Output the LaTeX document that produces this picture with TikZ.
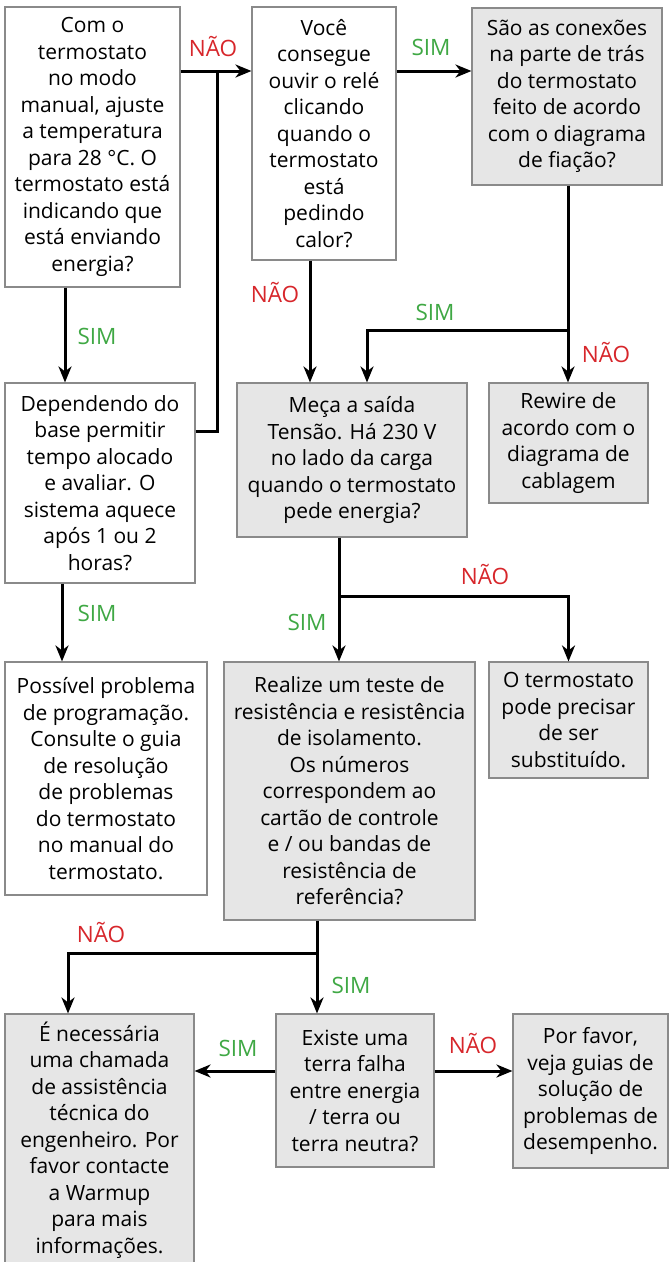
\documentclass[tikz,border=0pt]{standalone}
\usepackage{fontspec}
\setmainfont{Open Sans}
\usepackage{xcolor}
\usetikzlibrary{arrows.meta,positioning}
\definecolor{boxgray}{HTML}{E6E6E6}
\definecolor{edgegray}{HTML}{8A8A8A}
\definecolor{simgreen}{HTML}{3FA844}
\definecolor{naored}{HTML}{D7262B}

\begin{document}
\begin{tikzpicture}[x=1pt, y=-1pt,
    every node/.style={font=\fontsize{21}{26.5}\selectfont, align=center, inner sep=0pt},
    whitebox/.style={draw=edgegray, line width=1.1pt, fill=white},
    graybox/.style={draw=edgegray, line width=1.1pt, fill=boxgray},
    flow/.style={-{Stealth[length=16pt, width=13pt, inset=5pt]}, line width=3pt},
    joint/.style={line width=3pt},
    yes/.style={text=simgreen, font=\fontsize{22.5}{26}\selectfont},
    no/.style={text=naored, font=\fontsize{22.5}{26}\selectfont}]
  \useasboundingbox (0,0) rectangle (669,1262);
  \clip (0,0) rectangle (669,1262);
  % caixas
  \node[whitebox, minimum width=175pt, minimum height=280pt] (modo) at (92.5,147) {Com o\\termostato\\no modo\\manual, ajuste\\a temperatura\\para 28 °C. O\\termostato está\\indicando que\\está enviando\\energia?};
  \node[whitebox, minimum width=144pt, minimum height=253pt] (rele) at (324,133.5) {Você\\consegue\\ouvir o relé\\clicando\\quando o\\termostato\\está\\pedindo\\calor?};
  \node[graybox, minimum width=190pt, minimum height=177pt] (conexoes) at (567,96.5) {São as conexões\\na parte de trás\\do termostato\\feito de acordo\\com o diagrama\\de fiação?};
  \node[whitebox, minimum width=190pt, minimum height=200pt] (aquece) at (100,483) {Dependendo do\\base permitir\\tempo alocado\\e avaliar. O\\sistema aquece\\após 1 ou 2\\horas?};
  \node[whitebox, minimum width=202pt, minimum height=233pt] (programa) at (106,778.5) {Possível problema\\de programação.\\Consulte o guia\\de resolução\\de problemas\\do termostato\\no manual do\\termostato.};
  \node[graybox, minimum width=230pt, minimum height=154pt] (tensao) at (352,460) {Meça a saída\\Tensão. Há 230 V\\no lado da carga\\quando o termostato\\pede energia?};
  \node[graybox, minimum width=159pt, minimum height=120pt] (rewire) at (568.5,443) {Rewire de\\acordo com o\\diagrama de\\cablagem};
  \node[graybox, minimum width=251pt, minimum height=258pt] (isolamento) at (349.5,791) {Realize um teste de\\resistência e resistência\\de isolamento.\\Os números\\correspondem ao\\cartão de controle\\e / ou bandas de\\resistência de\\referência?};
  \node[graybox, minimum width=159pt, minimum height=116pt] (substituir) at (568.5,720) {O termostato\\pode precisar\\de ser\\substituído.};
  \node[graybox, minimum width=189pt, minimum height=252pt] (engenheiro) at (99.5,1140) {É necessária\\uma chamada\\de assistência\\técnica do\\engenheiro. Por\\favor contacte\\a Warmup\\para mais\\informações.};
  \node[graybox, minimum width=158pt, minimum height=153pt] (falha) at (355,1090.5) {Existe uma\\terra falha\\entre energia\\/ terra ou\\terra neutra?};
  \node[graybox, minimum width=155pt, minimum height=154pt] (desempenho) at (590.5,1091) {Por favor,\\veja guias de\\solução de\\problemas de\\desempenho.};
  % pontos de junção
  \coordinate (jRele) at (217,71);
  \coordinate (jConex) at (568,330);
  \coordinate (jTensao) at (339,596);
  \coordinate (jIsol) at (317,953);
  % conectores
  \draw[flow] (modo.east |- jRele) -- (rele.west |- jRele);
  \draw[joint] ([yshift=52pt]aquece.east) -| (jRele);
  \draw[flow] ([xshift=-27.5pt]modo.south) -- ([xshift=-27.5pt]modo.south |- aquece.north);
  \draw[flow] ([xshift=-38pt]aquece.south) -- ([xshift=-38pt]aquece.south |- programa.north);
  \draw[flow] (rele.east |- jRele) -- (conexoes.west |- jRele);
  \draw[flow] ([xshift=-14pt]rele.south) -- ([xshift=-14pt]rele.south |- tensao.north);
  \draw[flow] (conexoes.south -| jConex) -- (rewire.north -| jConex);
  \draw[flow] (jConex) -| ([xshift=15pt]tensao.north);
  \draw[flow] (tensao.south -| jTensao) -- (isolamento.north -| jTensao);
  \draw[flow] (jTensao) -| (substituir.north);
  \draw[flow] (isolamento.south -| jIsol) -- (falha.north -| jIsol);
  \draw[flow] (jIsol) -| ([xshift=-31.5pt]engenheiro.north);
  \draw[flow] ([yshift=19.5pt]falha.west) -- ([yshift=19.5pt]falha.west -| engenheiro.east);
  \draw[flow] ([yshift=19.5pt]falha.east) -- ([yshift=19.5pt]falha.east -| desempenho.west);
  % rótulos
  \node[no] (naoModo) at (213,47) {NÃO};
  \node[yes] (simRele) at (431,47) {SIM};
  \node[no] (naoRele) at (275,293) {NÃO};
  \node[yes] (simConex) at (435,312) {SIM};
  \node[no] (naoConex) at (606,352) {NÃO};
  \node[yes] (simModo) at (97,336) {SIM};
  \node[yes] (simAquece) at (97,613) {SIM};
  \node[no] (naoTensao) at (485,574) {NÃO};
  \node[yes] (simTensao) at (307,622) {SIM};
  \node[no] (naoIsol) at (101,932) {NÃO};
  \node[yes] (simIsol) at (351,985) {SIM};
  \node[yes] (simFalha) at (238,1048) {SIM};
  \node[no] (naoFalha) at (473,1043) {NÃO};
\end{tikzpicture}
\end{document}
